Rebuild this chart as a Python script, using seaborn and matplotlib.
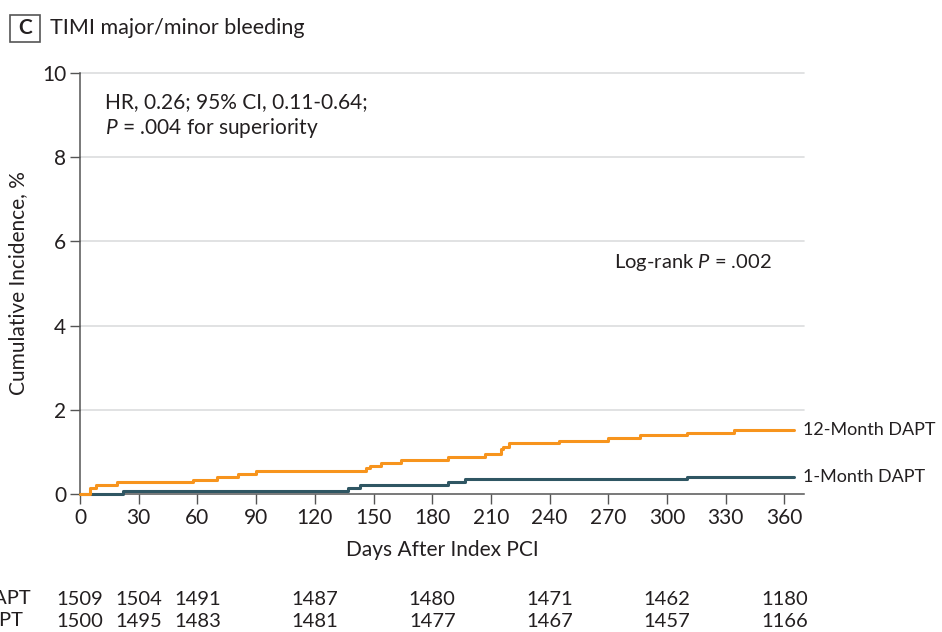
import matplotlib
matplotlib.use("Agg")
import matplotlib.pyplot as plt
import seaborn as sns
import pandas as pd
from matplotlib.patches import Rectangle

# ---- data ----
days_12m = [0, 5, 8, 19, 58, 70, 81, 90, 146, 148, 154, 164, 188, 207, 215, 216, 219, 245, 270, 286, 310, 334, 365]
inc_12m = [0, 0.14, 0.21, 0.29, 0.33, 0.40, 0.47, 0.55, 0.61, 0.67, 0.74, 0.80, 0.87, 0.94, 1.06, 1.12, 1.20, 1.27, 1.32, 1.39, 1.45, 1.52, 1.52]
days_1m = [0, 22, 137, 143, 188, 197, 310, 365]
inc_1m = [0, 0.08, 0.14, 0.21, 0.28, 0.35, 0.41, 0.41]
groups = ["12-Month DAPT", "1-Month DAPT"]
risk_days = [0, 30, 60, 120, 180, 240, 300, 360]
risk_12m = [1509, 1504, 1491, 1487, 1480, 1471, 1462, 1180]
risk_1m = [1500, 1495, 1483, 1481, 1477, 1467, 1457, 1166]
x_ticks = list(range(0, 361, 30))
y_ticks = [0, 2, 4, 6, 8, 10]

ORANGE = "#F7941D"
TEAL = "#2F5663"
TXT = "#231F20"

sns.set_theme(style="white")
plt.rcParams["font.family"] = ["Lato", "DejaVu Sans"]
plt.rcParams["mathtext.fontset"] = "custom"
plt.rcParams["mathtext.rm"] = "Lato"
plt.rcParams["mathtext.it"] = "Lato:italic"

df = pd.DataFrame({
    "day": days_12m + days_1m,
    "inc": inc_12m + inc_1m,
    "group": [groups[0]] * len(days_12m) + [groups[1]] * len(days_1m),
})

W, H = 942, 632
fig = plt.figure(figsize=(W / 100, H / 100), dpi=100)
ax = fig.add_axes([80 / W, (H - 494) / H, (804 - 80) / W, (494 - 73) / H])

for y in y_ticks[1:]:
    ax.axhline(y, color="#DCDDDE", lw=1.2, zorder=0)

sns.lineplot(data=df, x="day", y="inc", hue="group", hue_order=groups[::-1],
             palette=[TEAL, ORANGE], drawstyle="steps-post", lw=2.2,
             legend=False, ax=ax, zorder=3)
for ln in ax.get_lines():
    ln.set_clip_on(False)

ax.set_xlim(0, 370)
ax.set_ylim(0, 10)
ax.set_xticks(x_ticks)
ax.set_yticks(y_ticks)
ax.tick_params(axis="both", which="both", direction="out", length=7, width=1,
               color="#555555", labelsize=15, labelcolor=TXT, pad=3, bottom=True, left=True)
for s in ["top", "right"]:
    ax.spines[s].set_visible(False)
for s in ["left", "bottom"]:
    ax.spines[s].set_color("#555555")
    ax.spines[s].set_linewidth(1.1)
    ax.spines[s].set_zorder(2)
ax.set_xlabel("Days After Index PCI", fontsize=15, color=TXT, labelpad=9)
ax.set_ylabel("Cumulative Incidence, %", fontsize=15, color=TXT, labelpad=10)

# end labels
ax.text(369.5, inc_12m[-1], groups[0], fontsize=13, color=TXT, va="center", ha="left", clip_on=False)
ax.text(369.5, inc_1m[-1], groups[1], fontsize=13, color=TXT, va="center", ha="left", clip_on=False)

# annotations
ax.text(13, 9.3, "HR, 0.26; 95% CI, 0.11-0.64;", fontsize=15, color=TXT, va="center")
ax.text(13, 8.7, r"$\mathit{P}$ = .004 for superiority", fontsize=15, color=TXT, va="center")
ax.text(273, 5.5, r"Log-rank $\mathit{P}$ = .002", fontsize=14.5, color=TXT, va="center")

# panel title
fig.patches.append(Rectangle((10 / W, (H - 42) / H), 30 / W, 27 / H, transform=fig.transFigure,
                             fill=False, ec="#555555", lw=1.2))
fig.text(25 / W, (H - 28.5) / H, "C", fontsize=15, fontweight="bold", color=TXT, ha="center", va="center")
fig.text(50 / W, (H - 28.5) / H, "TIMI major/minor bleeding", fontsize=15.5, color=TXT, ha="left", va="center")

# number at risk
for d, n1, n2 in zip(risk_days, risk_12m, risk_1m):
    ax.text(d, -2.5, f"{n1}", fontsize=14.5, color=TXT, ha="center", va="center", clip_on=False)
    ax.text(d, -3.03, f"{n2}", fontsize=14.5, color=TXT, ha="center", va="center", clip_on=False)
fig.text(31 / W, (H - 598) / H, groups[0], fontsize=14.5, color=TXT, ha="right", va="center")
fig.text(23 / W, (H - 620) / H, groups[1], fontsize=14.5, color=TXT, ha="right", va="center")

fig.savefig("out.png", dpi=100)
